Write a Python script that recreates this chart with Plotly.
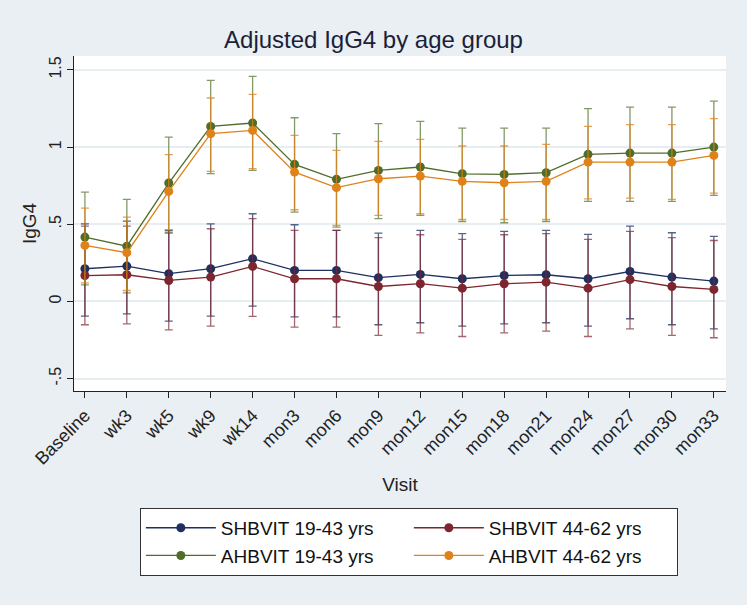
import plotly.graph_objects as go

visits = ["Baseline", "wk3", "wk5", "wk9", "wk14", "mon3", "mon6", "mon9",
          "mon12", "mon15", "mon18", "mon21", "mon24", "mon27", "mon30", "mon33"]

# SHBVIT 19-43 yrs
shb_young = [0.212, 0.229, 0.180, 0.212, 0.277, 0.201, 0.201, 0.154,
             0.175, 0.147, 0.168, 0.173, 0.147, 0.194, 0.158, 0.132]
shb_young_hi = [0.503, 0.520, 0.460, 0.503, 0.568, 0.497, 0.460, 0.443,
                0.460, 0.439, 0.454, 0.460, 0.434, 0.488, 0.445, 0.421]
shb_young_lo = [-0.095, -0.080, -0.128, -0.095, -0.030, -0.100, -0.100, -0.151,
                -0.138, -0.160, -0.145, -0.138, -0.160, -0.112, -0.151, -0.177]

# SHBVIT 44-62 yrs
shb_old = [0.168, 0.173, 0.136, 0.158, 0.227, 0.147, 0.147, 0.097,
           0.115, 0.086, 0.115, 0.125, 0.086, 0.141, 0.097, 0.078]
shb_old_hi = [0.488, 0.488, 0.443, 0.471, 0.536, 0.460, 0.460, 0.413,
              0.432, 0.402, 0.432, 0.439, 0.402, 0.454, 0.413, 0.395]
shb_old_lo = [-0.151, -0.145, -0.184, -0.160, -0.097, -0.166, -0.166, -0.220,
              -0.203, -0.227, -0.203, -0.192, -0.227, -0.177, -0.220, -0.235]

# AHBVIT 19-43 yrs
ahb_young = [0.417, 0.358, 0.767, 1.134, 1.156, 0.888, 0.791, 0.849,
             0.871, 0.827, 0.823, 0.834, 0.953, 0.961, 0.961, 1.000]
ahb_young_hi = [0.708, 0.661, 1.065, 1.432, 1.458, 1.190, 1.087, 1.152,
                1.167, 1.123, 1.123, 1.123, 1.249, 1.259, 1.259, 1.298]
ahb_young_lo = [0.108, 0.056, 0.449, 0.828, 0.849, 0.579, 0.482, 0.536,
                0.557, 0.518, 0.510, 0.518, 0.648, 0.648, 0.648, 0.687]

# AHBVIT 44-62 yrs
ahb_old = [0.363, 0.316, 0.713, 1.087, 1.108, 0.838, 0.737, 0.795,
           0.812, 0.778, 0.769, 0.778, 0.903, 0.903, 0.903, 0.946]
ahb_old_hi = [0.605, 0.546, 0.951, 1.318, 1.342, 1.076, 0.979, 1.037,
              1.050, 1.007, 1.007, 1.017, 1.134, 1.145, 1.145, 1.184]
ahb_old_lo = [0.121, 0.071, 0.465, 0.843, 0.860, 0.594, 0.493, 0.557,
              0.568, 0.531, 0.531, 0.531, 0.665, 0.669, 0.661, 0.702]

series = [
    ("SHBVIT 19-43 yrs", shb_young, shb_young_hi, shb_young_lo, "#1f3060", "rgba(31,48,96,0.75)"),
    ("SHBVIT 44-62 yrs", shb_old, shb_old_hi, shb_old_lo, "#7d2630", "rgba(125,38,48,0.7)"),
    ("AHBVIT 19-43 yrs", ahb_young, ahb_young_hi, ahb_young_lo, "#4f6d28", "rgba(79,109,40,0.7)"),
    ("AHBVIT 44-62 yrs", ahb_old, ahb_old_hi, ahb_old_lo, "#e0821a", "rgba(224,130,26,0.75)"),
]

fig = go.Figure()
for name, y, hi, lo, col, ecol in series:
    fig.add_trace(go.Scatter(
        x=visits, y=y, name=name, mode="lines+markers",
        line=dict(color=col, width=1.3),
        marker=dict(color=col, size=9, symbol="circle"),
        error_y=dict(type="data", symmetric=False,
                     array=[h - v for h, v in zip(hi, y)],
                     arrayminus=[v - l for v, l in zip(y, lo)],
                     color=ecol, thickness=1.3, width=4),
    ))

font_fam = "Liberation Sans, Arial, sans-serif"
fig.update_layout(
    width=747, height=605,
    paper_bgcolor="#e9eff2", plot_bgcolor="white",
    margin=dict(l=74, r=21, t=56, b=214),
    font=dict(family=font_fam, size=15, color="#222"),
    title=dict(text="Adjusted IgG4 by age group", x=0.5, xanchor="center",
               y=1 - 40 / 605, yanchor="middle",
               font=dict(size=24, color="#1a1f3a")),
    showlegend=True,
    legend=dict(orientation="h", x=0.101, xanchor="left", y=-0.349, yanchor="top",
                bgcolor="white", bordercolor="#333", borderwidth=1,
                font=dict(size=19, color="#111"), entrywidth=183, itemwidth=70,
                tracegroupgap=0),
)
fig.update_xaxes(
    range=[-0.26, 15.29], showgrid=False, showline=True, linecolor="#222",
    linewidth=1, ticks="outside", ticklen=6, tickcolor="#222", tickangle=-45,
    tickfont=dict(size=18), zeroline=False, automargin=False,
    title=dict(text="Visit", font=dict(size=19), standoff=10),
)
fig.update_yaxes(
    range=[-0.58, 1.59], tickvals=[-0.5, 0, 0.5, 1, 1.5],
    ticktext=["-.5", "0", ".5", "1", "1.5"], tickangle=-90,
    showgrid=True, gridcolor="#e6eef1", gridwidth=1.5,
    showline=True, linecolor="#222", linewidth=1, ticks="outside", ticklen=6,
    tickcolor="#222", zeroline=False, tickfont=dict(size=16), automargin=False,
    title=dict(text="IgG4", font=dict(size=19), standoff=4),
)

fig.write_html("out.html", config={"displayModeBar": False},
               post_script="document.body.style.margin='0';")
